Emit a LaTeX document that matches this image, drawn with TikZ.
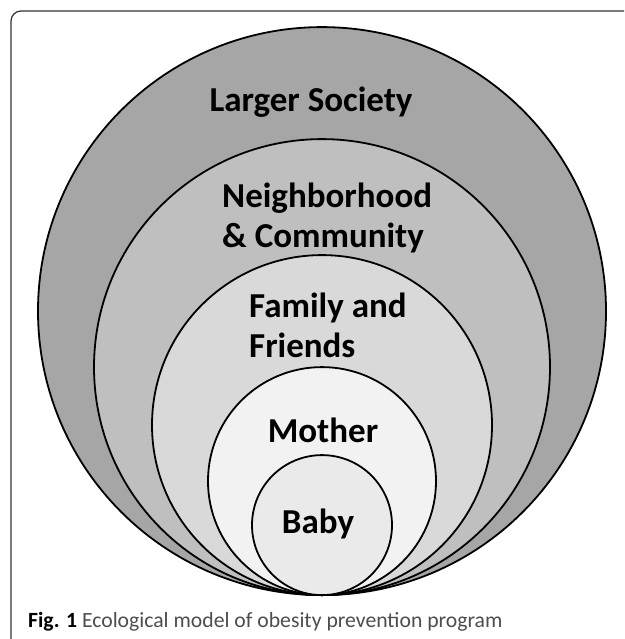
\documentclass[tikz,border=0pt]{standalone}
\usepackage{fontspec}
\setmainfont{Carlito}
\usetikzlibrary{positioning}

\definecolor{societygray}{HTML}{A6A6A6}
\definecolor{communitygray}{HTML}{BFBFBF}
\definecolor{familygray}{HTML}{D9D9D9}
\definecolor{mothergray}{HTML}{F2F2F2}
\definecolor{babygray}{HTML}{EAEAEA}
\definecolor{framegray}{HTML}{333333}
\definecolor{captiongray}{HTML}{4D4D4D}

\begin{document}
\begin{tikzpicture}[x=1pt,y=-1pt,
  ring/.style={circle, draw=black, line width=1.8pt, inner sep=0pt, anchor=south},
  ringtext/.style={font=\fontsize{35}{40}\selectfont\bfseries, inner sep=0pt, align=left}]
  \useasboundingbox (0,0) rectangle (624,639);
  \clip (0,0) rectangle (624,639);
  \draw [framegray, line width=1.2pt, rounded corners=10pt] (11,11) rectangle (660,670);

  % nested circles, all touching at the bottom
  \coordinate (touch) at (322,596);
  \node [ring, fill=societygray, minimum size=568pt] (society) at (touch) {};
  \node [ring, fill=communitygray, minimum size=456pt] (community) at (touch) {};
  \node [ring, fill=familygray, minimum size=340pt] (family) at (touch) {};
  \node [ring, fill=mothergray, minimum size=228pt] (mother) at (touch) {};
  \node [ring, fill=babygray, minimum size=140pt] (baby) at (touch) {};

  \node [ringtext, anchor=base] (society text) at (311,112) {Larger Society};
  \node [ringtext, anchor=base west] (community text) at (222,247) {Neighborhood\\\& Community};
  \node [ringtext, anchor=base west] (family text) at (249,357) {Family and\\Friends};
  \node [ringtext, anchor=base] (mother text) at (323,442) {Mother};
  \node [ringtext, anchor=base] (baby text) at (318,533) {Baby};

  \node [anchor=base west, inner sep=0pt, font=\fontsize{21.7}{26}\selectfont, text=captiongray]
    (caption) at (28,627) {\textcolor{black}{\textbf{Fig. 1}} Ecological model of obesity prevention program};
\end{tikzpicture}
\end{document}
